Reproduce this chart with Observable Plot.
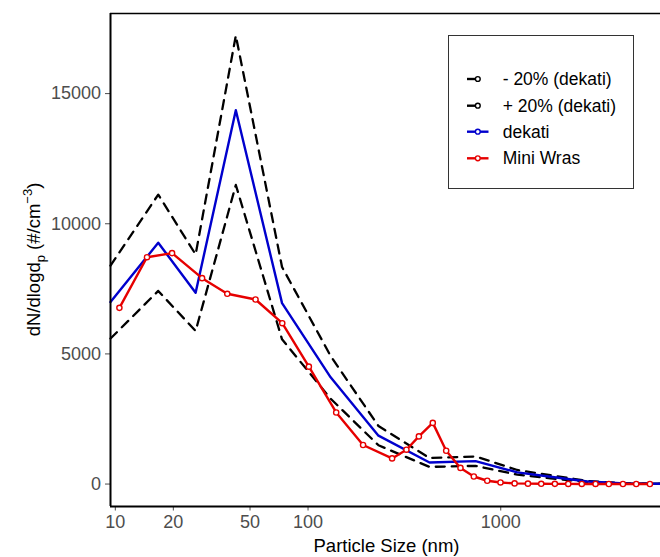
<!DOCTYPE html>
<html><head><meta charset="utf-8">
<script src="https://cdn.jsdelivr.net/npm/d3@7"></script>
<script src="https://cdn.jsdelivr.net/npm/@observablehq/plot@0.6"></script>
<style>html,body{margin:0;padding:0;background:#fff;overflow:hidden}</style>
</head><body><div id="chart"></div>
<script>
// Dekati (ELPI) size distribution, and the ±20% band lines
const dekatiSize    = [9.44, 16.7, 26.1, 42.2, 73.3, 131, 232, 427, 740, 1219, 1812, 2812, 4400, 6745];
const dekati        = [6990, 9270, 7350, 14360, 6950, 4100, 1860, 830, 880, 450, 280, 100, 25, 10];
const dekatiPlus20  = [8390, 11120, 8820, 17230, 8340, 4920, 2230, 1000, 1060, 540, 340, 120, 30, 12];
const dekatiMinus20 = [5590, 7420, 5880, 11490, 5560, 3280, 1490, 660, 700, 360, 220, 80, 20, 8];
// Mini WRAS size distribution
const wrasSize = [10.5, 14.6, 19.7, 28.2, 38.1, 53.4, 73.5, 101, 140, 193, 273, 324, 376, 444, 521, 618, 725, 851, 997, 1180, 1384, 1622, 1909, 2240, 2634, 3104, 3638, 4306, 5047, 5943];
const wras     = [6770, 8715, 8870, 7910, 7310, 7090, 6180, 4510, 2750, 1500, 985, 1320, 1830, 2350, 1280, 620, 290, 127, 62, 25, 15, 10, 8, 6, 5, 4, 3, 3, 2, 2];
// Axes
const xTicks = [10, 20, 50, 100, 1000];
const yTicks = [0, 5000, 10000, 15000];
const xDomain = [9.44, 6745];
const yDomain = [-862, 18077];
const legendLabels = ["- 20% (dekati)", "+ 20% (dekati)", "dekati", "Mini Wras"];
const legendColors = ["black", "black", "#0000CD", "#E60000"];

const dk = dekatiSize.map((s, i) => ({size: s, mid: dekati[i], hi: dekatiPlus20[i], lo: dekatiMinus20[i]}));
const mw = wrasSize.map((s, i) => ({size: s, v: wras[i]}));

const font = "'Liberation Sans', Arial, sans-serif";
const chart = Plot.plot({
  width: 660, height: 557,
  marginLeft: 110, marginRight: 0, marginTop: 13, marginBottom: 51,
  style: {fontFamily: font, background: "white"},
  x: {type: "log", domain: xDomain},
  y: {domain: yDomain},
  marks: [
    Plot.line(dk, {x: "size", y: "lo", stroke: "black", strokeWidth: 2.3, strokeDasharray: "9,7"}),
    Plot.line(dk, {x: "size", y: "hi", stroke: "black", strokeWidth: 2.3, strokeDasharray: "9,7"}),
    Plot.line(dk, {x: "size", y: "mid", stroke: legendColors[2], strokeWidth: 2.4}),
    Plot.line(mw, {x: "size", y: "v", stroke: legendColors[3], strokeWidth: 2.4}),
    Plot.dot(mw, {x: "size", y: "v", r: 2.6, stroke: legendColors[3], fill: "white", strokeWidth: 1.4}),
    Plot.axisX({ticks: xTicks, tickSize: 4.5, tickPadding: 4.5, fontSize: 18, color: "#4d4d4d", tickFormat: () => "", label: null}),
    Plot.text(xTicks, {x: d => d, text: d => String(d), frameAnchor: "bottom", lineAnchor: "top", dy: 9, fontSize: 18, fill: "#4d4d4d"}),
    Plot.axisY(yTicks, {tickSize: 5, tickPadding: 4.5, fontSize: 18, color: "#4d4d4d", tickFormat: d => String(d), label: null}),
    Plot.ruleY([yDomain[1]], {stroke: "black", strokeWidth: 1.4}),
    Plot.ruleY([yDomain[0]], {stroke: "black", strokeWidth: 2}),
    Plot.ruleX([xDomain[0]], {stroke: "black", strokeWidth: 2})
  ]
});
document.getElementById("chart").appendChild(chart);

const svg = d3.select(chart);
// x axis title
svg.append("text").attr("x", 386.5).attr("y", 552).attr("text-anchor", "middle")
  .attr("font-size", 18.5).attr("fill", "black").attr("font-family", font).text("Particle Size (nm)");
// y axis title
const yt = svg.append("text").attr("transform", "translate(40,259.5) rotate(-90)")
  .attr("text-anchor", "middle").attr("font-size", 18.5).attr("fill", "black").attr("font-family", font);
yt.append("tspan").text("dN/dlogd");
yt.append("tspan").attr("dy", 5).attr("font-size", 13).text("p");
yt.append("tspan").attr("dy", -5).text(" (#/cm");
yt.append("tspan").attr("dy", -8).attr("font-size", 13).text("\u22123");
yt.append("tspan").attr("dy", 8).text(")");

// legend
const lg = svg.append("g");
lg.append("rect").attr("x", 448.5).attr("y", 35.5).attr("width", 185).attr("height", 153)
  .attr("fill", "white").attr("stroke", "#333").attr("stroke-width", 1);
const rowY = [79, 105.7, 131.7, 158.3];
legendLabels.forEach((lab, i) => {
  const y = rowY[i];
  const dashed = i < 2;
  lg.append("line").attr("x1", 467).attr("x2", 488.5).attr("y1", y).attr("y2", y)
    .attr("stroke", legendColors[i]).attr("stroke-width", 2.4)
    .attr("stroke-dasharray", dashed ? "8,14" : null);
  lg.append("circle").attr("cx", 477.8).attr("cy", y).attr("r", 2.4)
    .attr("fill", "white").attr("stroke", legendColors[i]).attr("stroke-width", 1.4);
  lg.append("text").attr("x", 502.7).attr("y", y).attr("dy", "0.35em").attr("text-anchor", "start")
    .attr("font-size", 17.5).attr("fill", "black").attr("font-family", font).text(lab);
});
</script>
</body></html>
